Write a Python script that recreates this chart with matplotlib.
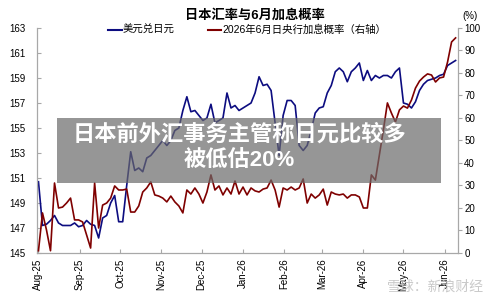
import matplotlib
matplotlib.use('Agg')
import matplotlib.pyplot as plt
import matplotlib.dates as mdates
from matplotlib.lines import Line2D
from matplotlib.patches import Rectangle
import pandas as pd

plt.rcParams['font.family'] = ['Liberation Sans', 'Noto Sans CJK SC']

# data, one value every 3 days from 1 Aug 2025
dates = pd.date_range('2025-08-01', periods=105, freq='3D')

usdjpy = [150.7, 147.2, 147.3, 147.6, 148.0, 147.4, 147.2, 147.2, 147.2, 147.4,
          147.1, 147.2, 147.6, 147.3, 147.2, 146.2, 147.8, 148.0, 149.0, 149.6,
          147.5, 147.5, 150.4, 153.1, 151.6, 151.8, 151.5, 152.6, 152.8, 153.2,
          153.6, 154.0, 153.6, 154.0, 154.8, 155.0, 156.4, 157.5, 156.3, 156.4,
          156.0, 155.6, 155.8, 156.9, 155.4, 155.6, 155.8, 157.8, 156.6, 156.8,
          156.4, 156.6, 156.8, 157.0, 157.8, 159.1, 158.4, 158.5, 158.0, 155.4,
          152.8, 156.0, 157.2, 157.2, 156.8, 153.6, 153.2, 153.6, 154.8, 156.2,
          156.6, 156.7, 157.8, 158.4, 159.5, 159.8, 159.5, 158.7, 159.5, 159.8,
          160.2, 158.8, 159.6, 158.8, 159.2, 159.0, 159.2, 159.2, 159.0, 159.5,
          159.8, 157.0, 156.9, 156.6, 157.1, 158.0, 158.5, 158.8, 158.9, 159.0,
          159.2, 159.3, 160.0, 160.2, 160.4]

hike_prob = [1.0, 17.8, 10.2, 1.0, 31.1, 20.0, 20.4, 22.2, 24.4, 14.7,
             14.7, 13.8, 8.0, 2.2, 31.1, 11.1, 21.3, 22.2, 24.4, 29.8,
             28.0, 28.0, 28.4, 18.2, 18.2, 20.9, 27.1, 28.9, 31.6, 25.8,
             25.3, 24.4, 22.7, 25.3, 22.7, 20.9, 17.8, 28.0, 26.2, 28.9,
             26.2, 22.2, 27.1, 34.7, 28.0, 29.8, 25.8, 28.9, 26.2, 32.0,
             26.2, 29.3, 25.8, 28.9, 27.6, 27.1, 28.4, 28.9, 32.4, 28.0,
             20.4, 28.9, 28.0, 29.3, 28.0, 28.9, 32.9, 22.2, 26.2, 24.4,
             25.8, 28.4, 21.3, 27.1, 26.2, 25.8, 26.2, 24.4, 25.8, 25.8,
             24.9, 20.0, 20.0, 34.7, 32.4, 43.6, 54.7, 66.7, 62.2, 58.2,
             63.6, 65.3, 64.4, 68.0, 73.3, 76.4, 78.2, 79.6, 79.1, 76.0,
             77.8, 78.2, 84.9, 93.8, 95.6]

title = '日本汇率与6月加息概率'
labels = ['美元兑日元', '2026年6月日央行加息概率（右轴）']
banner = ['日本前外汇事务主管称日元比较多', '被低估20%']
watermark = '雪球：新浪财经'

blue = '#0c0c80'
red = '#7f0000'
gray = '#a8a8a8'

fig = plt.figure(figsize=(5, 3.02), dpi=100)
ax = fig.add_axes([0.074, 0.1623, 0.842, 0.745])
ax2 = ax.twinx()

ax.plot(dates, usdjpy, color=blue, lw=1.2)
ax2.plot(dates, hike_prob, color=red, lw=1.2)

ax.set_ylim(145, 163)
ax.set_yticks(range(145, 164, 2))
ax2.set_ylim(0, 100)
ax2.set_yticks(range(0, 101, 10))

x0 = pd.Timestamp('2025-08-01')
ax.set_xlim(x0 - pd.Timedelta(days=1.1), x0 + pd.Timedelta(days=313.8))
ax.xaxis.set_major_locator(mdates.MonthLocator())
ax.xaxis.set_major_formatter(mdates.DateFormatter('%b-%y'))
plt.setp(ax.get_xticklabels(), rotation=90)

for s in ['top', 'right']:
    ax.spines[s].set_visible(False)
for s in ['top', 'left', 'bottom']:
    ax2.spines[s].set_visible(False)
for sp in [ax.spines['left'], ax.spines['bottom'], ax2.spines['right']]:
    sp.set_color(gray)
    sp.set_linewidth(0.9)

ax.tick_params(axis='y', direction='in', length=3, color=gray, labelsize=7, pad=8)
ax.tick_params(axis='x', direction='in', length=3, color=gray, labelsize=7, pad=4)
ax2.tick_params(axis='y', direction='out', length=3, color=gray, labelsize=7, pad=1.5)

# title and legend
fig.text(255 / 500, 1 - 15 / 302, title, ha='center', va='center',
         fontsize=9.5, fontweight='bold')
fig.text(470 / 500, 1 - 16 / 302, '(%)', ha='center', va='center', fontsize=7)
handles = [Line2D([], [], color=blue, lw=1.5), Line2D([], [], color=red, lw=1.5)]
fig.legend(handles, labels, ncol=2, loc='center left',
           bbox_to_anchor=(108 / 500, 1 - 30 / 302), frameon=False,
           fontsize=7.5, handlelength=1.3, handletextpad=0.1,
           columnspacing=3.2, borderpad=0, borderaxespad=0)

# news banner over the chart
fig.add_artist(Rectangle((0.114, 0.394), 0.768, 0.215, transform=fig.transFigure,
                         facecolor='#6a6a6a', alpha=0.7, edgecolor='none', zorder=10))
fig.text(0.478, 0.553, banner[0], ha='center', va='center', color='white',
         fontsize=16, fontweight='bold', zorder=11)
fig.text(0.478, 0.470, banner[1], ha='center', va='center', color='white',
         fontsize=16, fontweight='bold', zorder=11)

fig.text(0.87, 1 - 287 / 302, watermark, ha='center', va='center',
         fontsize=10, color='#c4c4c4', alpha=0.9, zorder=10)

fig.savefig('out.png', dpi=100)
